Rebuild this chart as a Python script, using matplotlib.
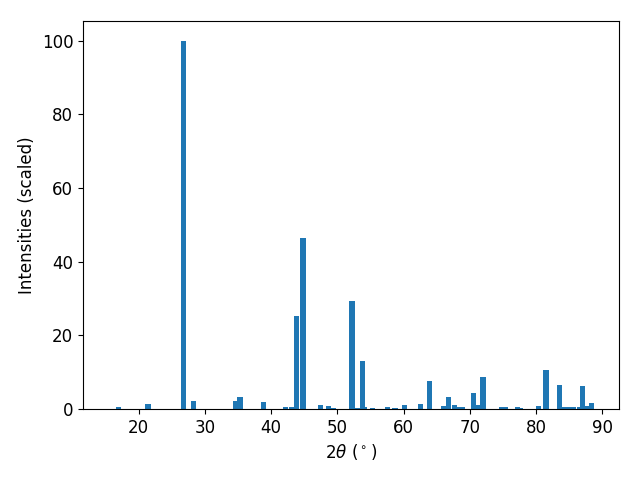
import numpy as np
import matplotlib.pyplot as plt

# peak positions (2theta, deg) and scaled intensities
two_theta = [16.98, 21.4, 26.8, 28.3, 34.6, 35.3, 38.8, 42.2, 43.1, 43.85,
             44.8, 47.5, 48.7, 49.4, 52.2, 53.05, 53.8, 54.1, 55.3, 57.6,
             58.7, 60.1, 62.6, 63.9, 66.1, 66.75, 67.7, 68.2, 68.8, 70.55,
             71.2, 72.0, 74.8, 75.4, 77.2, 77.7, 80.4, 81.5, 83.5, 84.3,
             84.95, 85.6, 86.6, 87.0, 87.6, 88.4]
intensity = [0.5, 1.3, 100, 2.1, 2.1, 3.2, 1.8, 0.5, 0.5, 25.2,
             46.5, 1.0, 0.8, 0.3, 29.2, 0.3, 13.0, 0.5, 0.3, 0.5,
             0.3, 1.0, 1.3, 7.5, 0.9, 3.3, 1.2, 0.4, 0.6, 4.2,
             1.2, 8.8, 0.6, 0.4, 0.6, 0.3, 0.9, 10.7, 6.6, 0.6,
             0.4, 0.4, 0.4, 6.1, 0.9, 1.7]

plt.rcParams['font.size'] = 12

fig, ax = plt.subplots(figsize=(6.4, 4.8))
ax.bar(two_theta, intensity, width=0.8, color='#1f77b4')
ax.set_xlim(11.6, 92.5)
ax.set_ylim(0, 105.3)
ax.set_xlabel(r'2$\theta$ ($^\circ$)')
ax.set_ylabel('Intensities (scaled)')
fig.subplots_adjust(left=0.1297, right=0.967, top=0.956, bottom=0.148)
fig.savefig('out.png', dpi=100)
